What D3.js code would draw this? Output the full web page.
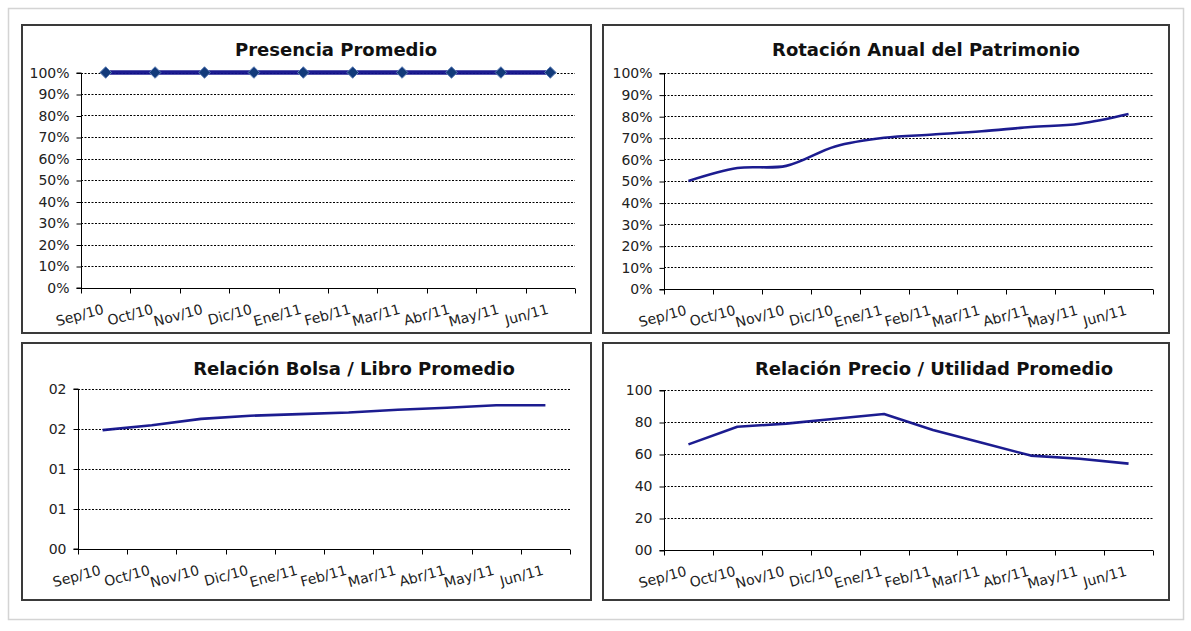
<!DOCTYPE html>
<html>
<head>
<meta charset="utf-8">
<script src="https://cdn.jsdelivr.net/npm/d3@7"></script>
<style>
  html, body { margin: 0; padding: 0; background: #ffffff; }
  svg { display: block; }
  text { font-family: "DejaVu Sans", Verdana, sans-serif; }
</style>
</head>
<body>
<svg id="chart" width="1191" height="631"></svg>
<script>
// Monthly categories shared by the four panels
const months = ["Sep/10", "Oct/10", "Nov/10", "Dic/10", "Ene/11", "Feb/11", "Mar/11", "Abr/11", "May/11", "Jun/11"];

// Series values
const presencia = [1, 1, 1, 1, 1, 1, 1, 1, 1, 1];
const rotacion = [0.50, 0.56, 0.57, 0.66, 0.70, 0.715, 0.73, 0.75, 0.765, 0.81];
const bolsaLibro = [1.48, 1.54, 1.62, 1.66, 1.68, 1.70, 1.735, 1.76, 1.79, 1.79];
const precioUtilidad = [66, 77, 79, 82, 85, 75, 67, 59, 57, 54];

// Axis ticks and their labels
const pctTicks = [0, 0.1, 0.2, 0.3, 0.4, 0.5, 0.6, 0.7, 0.8, 0.9, 1.0];
const pctLabels = ["0%", "10%", "20%", "30%", "40%", "50%", "60%", "70%", "80%", "90%", "100%"];
const bolsaTicks = [0, 0.5, 1.0, 1.5, 2.0];
const bolsaLabels = ["00", "01", "01", "02", "02"];
const precioTicks = [0, 20, 40, 60, 80, 100];
const precioLabels = ["00", "20", "40", "60", "80", "100"];

// Titles
const titles = ["Presencia Promedio", "Rotación Anual del Patrimonio", "Relación Bolsa / Libro Promedio", "Relación Precio / Utilidad Promedio"];

const LINE = "#10108a";
const svg = d3.select("#chart");

// outer light frame
svg.append("rect")
  .attr("x", 8.5).attr("y", 8.5).attr("width", 1175).attr("height", 611)
  .attr("fill", "#fff").attr("stroke", "#d4d4d4").attr("stroke-width", 1.5);

const panels = [
  { box: [22, 25, 591, 333], plot: [81, 72.5, 575, 287.5], title: titles[0], titleX: 336, titleY: 56,
    values: presencia, ticks: pctTicks, labels: pctLabels, domain: [0, 1], curve: d3.curveLinear,
    width: 4.5, markers: true },
  { box: [603, 25, 1169, 333], plot: [664, 73, 1153, 289], title: titles[1], titleX: 926, titleY: 56,
    values: rotacion, ticks: pctTicks, labels: pctLabels, domain: [0, 1], curve: d3.curveCatmullRom.alpha(0.5),
    width: 2.6, markers: false },
  { box: [22, 343, 591, 600], plot: [78, 388.5, 570, 548.5], title: titles[2], titleX: 354, titleY: 375,
    values: bolsaLibro, ticks: bolsaTicks, labels: bolsaLabels, domain: [0, 2], curve: d3.curveLinear,
    width: 2.6, markers: false },
  { box: [603, 343, 1169, 600], plot: [664, 390, 1153, 550], title: titles[3], titleX: 934, titleY: 375,
    values: precioUtilidad, ticks: precioTicks, labels: precioLabels, domain: [0, 100], curve: d3.curveLinear,
    width: 2.6, markers: false }
];

panels.forEach(p => {
  const [bx0, by0, bx1, by1] = p.box;
  const [px0, py0, px1, py1] = p.plot;

  // panel frame
  svg.append("rect")
    .attr("x", bx0).attr("y", by0).attr("width", bx1 - bx0).attr("height", by1 - by0)
    .attr("fill", "#fff").attr("stroke", "#3a3a3a").attr("stroke-width", 2);

  // title
  svg.append("text")
    .attr("x", p.titleX).attr("y", p.titleY)
    .attr("text-anchor", "middle")
    .attr("font-size", 18).attr("font-weight", "bold").attr("fill", "#111")
    .text(p.title);

  const x = d3.scaleBand().domain(months).range([px0, px1]).paddingInner(0).paddingOuter(0);
  const y = d3.scaleLinear().domain(p.domain).range([py1, py0]);

  const g = svg.append("g");

  // dashed horizontal gridlines
  g.selectAll("line.grid")
    .data(p.ticks.filter(t => t !== p.domain[0]))
    .join("line")
    .attr("class", "grid")
    .attr("x1", px0).attr("x2", px1)
    .attr("y1", d => Math.round(y(d)) + 0.5).attr("y2", d => Math.round(y(d)) + 0.5)
    .attr("stroke", "#000").attr("stroke-width", 1).attr("stroke-dasharray", "2,1.5");

  // y axis
  const yAxis = d3.axisLeft(y)
    .tickValues(p.ticks)
    .tickSize(5)
    .tickPadding(7)
    .tickFormat((d, i) => p.labels[i]);
  const ya = g.append("g").attr("transform", `translate(${px0 + 0.5},0.5)`).call(yAxis);
  ya.select(".domain").attr("stroke", "#000").attr("d", `M-5,${y(p.domain[0])}H0V${y(p.domain[1])}H-5`);
  ya.selectAll(".tick line").attr("stroke", "#000");
  ya.selectAll(".tick text")
    .attr("font-family", "DejaVu Sans, Verdana, sans-serif")
    .attr("font-size", 14).attr("fill", "#222");

  // x axis with ticks at category boundaries
  const xa = g.append("g").attr("transform", `translate(0,${Math.round(py1) + 0.5})`);
  xa.append("line").attr("x1", px0).attr("x2", px1).attr("stroke", "#000");
  const bounds = months.map(m => x(m)).concat([x(months[months.length - 1]) + x.bandwidth()]);
  xa.selectAll("line.tk").data(bounds).join("line")
    .attr("class", "tk")
    .attr("x1", d => Math.round(d) + 0.5).attr("x2", d => Math.round(d) + 0.5)
    .attr("y1", 0).attr("y2", 5).attr("stroke", "#000");
  xa.selectAll("text").data(months).join("text")
    .attr("transform", d => `translate(${x(d) + x.bandwidth() / 2 - 1},25) rotate(-15)`)
    .attr("text-anchor", "end")
    .attr("font-size", 14).attr("fill", "#222")
    .text(d => d);

  // series line
  const line = d3.line()
    .x((d, i) => x(months[i]) + x.bandwidth() / 2)
    .y(d => y(d))
    .curve(p.curve);
  g.append("path")
    .datum(p.values)
    .attr("d", line)
    .attr("fill", "none")
    .attr("stroke", LINE)
    .attr("stroke-width", p.width)
    .attr("stroke-linejoin", "round")
    .attr("opacity", 0.95);

  if (p.markers) {
    g.selectAll("path.mk").data(p.values).join("path")
      .attr("class", "mk")
      .attr("transform", (d, i) => `translate(${x(months[i]) + x.bandwidth() / 2},${y(d)})`)
      .attr("d", d3.symbol(d3.symbolDiamond2, 85)())
      .attr("fill", "#123a7a").attr("stroke", "#5a7cb4").attr("stroke-width", 1);
  }
});
</script>
</body>
</html>
